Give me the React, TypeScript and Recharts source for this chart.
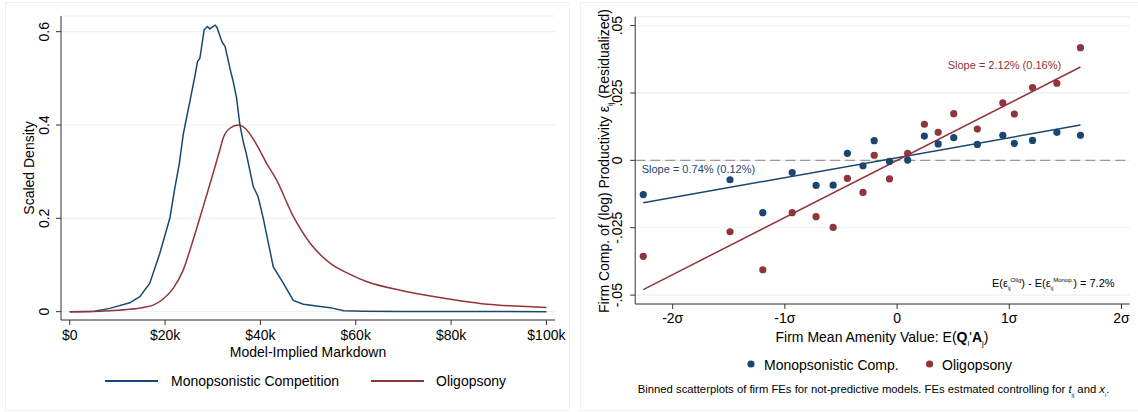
import {
  CartesianGrid,
  ComposedChart,
  Line,
  LineChart,
  ReferenceLine,
  Scatter,
  XAxis,
  YAxis,
} from "recharts";

const NAVY = "#1a476f";
const MAROON = "#90353b";
const GRID = "#eaf2f3";
const AXIS = "#333333";
const FONT = '"Liberation Sans", Arial, Helvetica, sans-serif';

// Left panel: kernel densities of the model-implied markdown ($k)
const monoMarkdown = [
  0, 5.2, 8.4, 12.6, 14.7, 16.8, 18.9, 21, 22.1, 23, 23.8, 24.5, 25.2, 26.3,
  26.8, 27.3, 28.2, 28.9, 29.4, 30, 30.5, 30.9, 31.9, 32.6, 33.6, 34.3, 35,
  35.7, 36.4, 37.1, 38.5, 39.5, 40.6, 42.7, 44.8, 46.9, 49, 51.8, 54.6, 57.5,
  61.7, 70, 100,
];
const monoDensity = [
  0, 0.001, 0.007, 0.019, 0.032, 0.061, 0.125, 0.2, 0.268, 0.318, 0.379, 0.415,
  0.45, 0.507, 0.536, 0.543, 0.604, 0.611, 0.606, 0.611, 0.614, 0.609, 0.579,
  0.568, 0.522, 0.493, 0.458, 0.4, 0.364, 0.336, 0.268, 0.247, 0.2, 0.096,
  0.061, 0.024, 0.016, 0.012, 0.0086, 0.002, 0.001, 0.0005, 0,
];
const oligMarkdown = [
  0, 5, 8.4, 12.6, 15.4, 17.5, 19.6, 21.7, 23.8, 25.9, 28, 30.1, 31.5, 32.2,
  33.6, 35.4, 37.1, 39.2, 41.3, 43.4, 46.9, 50.4, 54.6, 58.6, 62.4, 69.3, 75.4,
  81.5, 87.6, 93.7, 100,
];
const oligDensity = [
  0, 0.0005, 0.002, 0.005, 0.009, 0.014, 0.027, 0.05, 0.089, 0.154, 0.225,
  0.297, 0.347, 0.372, 0.393, 0.4, 0.39, 0.358, 0.318, 0.282, 0.204, 0.147,
  0.104, 0.081, 0.064, 0.046, 0.034, 0.024, 0.016, 0.012, 0.009,
];
const markdownTicks = [0, 20, 40, 60, 80, 100];
const densityTicks = [0, 0.2, 0.4, 0.6];

// Right panel: binned firm FEs against mean amenity value (in SD units)
const amenityBins = [
  -2.262, -1.489, -1.197, -0.935, -0.722, -0.57, -0.443, -0.304, -0.204, -0.068,
  0.094, 0.243, 0.366, 0.505, 0.715, 0.942, 1.045, 1.207, 1.424, 1.634,
];
const monoResid = [
  -0.0127, -0.0072, -0.0194, -0.0045, -0.0093, -0.0092, 0.0026, -0.002, 0.0073,
  -0.0004, 0.0001, 0.009, 0.0061, 0.0084, 0.0059, 0.0093, 0.0063, 0.0074,
  0.0104, 0.0093,
];
const oligResid = [
  -0.0356, -0.0265, -0.0406, -0.0194, -0.0209, -0.0249, -0.0067, -0.0119,
  0.0019, -0.0069, 0.0026, 0.0134, 0.0104, 0.0173, 0.0116, 0.0213, 0.0172,
  0.027, 0.0286, 0.0418,
];
const monoSlope = 0.0074;
const monoIntercept = 0.001;
const oligSlope = 0.0212;
const oligIntercept = 0;
const sigmaTicks = [-2, -1, 0, 1, 2];
const residTicks = [-0.05, -0.025, 0, 0.025, 0.05];

const monoCurve = monoMarkdown.map((x, i) => ({ x, y: monoDensity[i] }));
const oligCurve = oligMarkdown.map((x, i) => ({ x, y: oligDensity[i] }));
const monoBins = amenityBins.map((x, i) => ({ x, y: monoResid[i] }));
const oligBins = amenityBins.map((x, i) => ({ x, y: oligResid[i] }));

const binLo = Math.min(...amenityBins);
const binHi = Math.max(...amenityBins);
const fitLine = (slope: number, intercept: number) =>
  [binLo, binHi].map((x) => ({ x, y: intercept + slope * x }));
const monoFit = fitLine(monoSlope, monoIntercept);
const oligFit = fitLine(oligSlope, oligIntercept);

const fmtDollar = (v: number) => (v === 0 ? "$0" : `$${v}k`);
const fmtSigma = (v: number) => (v === 0 ? "0" : `${v}σ`);
const fmtDensity = (v: number) => (v === 0 ? "0" : String(v));
const fmtResid = (v: number) =>
  v === 0 ? "0" : String(v).replace("0.", ".");

// Stata-style vertical tick labels on the y axis
function RotatedTick(props: any) {
  const { x, y, payload, fmt } = props;
  return (
    <text
      x={x}
      y={y}
      dy="0.36em"
      textAnchor="middle"
      fontSize={14}
      fontFamily={FONT}
      fill="#000"
      transform={`rotate(-90, ${x}, ${y})`}
    >
      {fmt(payload.value)}
    </text>
  );
}

const Dot = (color: string) => (p: any) =>
  <circle cx={p.cx} cy={p.cy} r={3.6} fill={color} />;

function Txt({
  x,
  y,
  center,
  rotate,
  size = 14,
  color = "#000",
  children,
}: any) {
  const tf = rotate
    ? "translate(-50%,-50%) rotate(-90deg)"
    : center
    ? "translate(-50%,-50%)"
    : "translateY(-50%)";
  return (
    <div
      style={{
        position: "absolute",
        left: x,
        top: y,
        transform: tf,
        whiteSpace: "nowrap",
        fontSize: size,
        lineHeight: 1,
        color,
      }}
    >
      {children}
    </div>
  );
}

const tiny = { fontSize: 6, lineHeight: 0 };
const small = { fontSize: 8, lineHeight: 0 };

export default function App() {
  return (
    <div
      style={{
        position: "absolute",
        left: 0,
        top: 0,
        width: 1138,
        height: 412,
        background: "#fff",
        fontFamily: FONT,
        overflow: "hidden",
      }}
    >
      <div
        style={{
          position: "absolute",
          left: 5,
          top: 2,
          width: 565,
          height: 409,
          border: "1px solid #eef1f1",
          boxSizing: "border-box",
        }}
      />
      <div
        style={{
          position: "absolute",
          left: 580,
          top: 2,
          width: 560,
          height: 409,
          border: "1px solid #eef1f1",
          boxSizing: "border-box",
        }}
      />

      {/* density panel */}
      <div style={{ position: "absolute", left: 0, top: 0 }}>
        <LineChart
          width={570}
          height={412}
          margin={{ top: 16, right: 15, bottom: 62, left: 31 }}
        >
          <CartesianGrid vertical={false} stroke={GRID} strokeWidth={1.2} />
          <XAxis
            dataKey="x"
            type="number"
            domain={[-1.83, 101.8]}
            allowDataOverflow
            ticks={markdownTicks}
            tickFormatter={fmtDollar}
            height={30}
            tickSize={5}
            tickMargin={5}
            stroke={AXIS}
            tick={{ fontSize: 14, fill: "#000", fontFamily: FONT }}
          />
          <YAxis
            dataKey="y"
            type="number"
            domain={[-0.0179, 0.6336]}
            allowDataOverflow
            ticks={densityTicks}
            width={30}
            tickSize={5}
            tickMargin={12}
            stroke={AXIS}
            tick={<RotatedTick fmt={fmtDensity} />}
          />
          <Line
            data={monoCurve}
            dataKey="y"
            stroke={NAVY}
            strokeWidth={1.5}
            dot={false}
            type="linear"
            isAnimationActive={false}
          />
          <Line
            data={oligCurve}
            dataKey="y"
            stroke={MAROON}
            strokeWidth={1.5}
            dot={false}
            type="monotone"
            isAnimationActive={false}
          />
        </LineChart>
      </div>
      <Txt x={29} y={168} rotate>
        Scaled Density
      </Txt>
      <Txt x={308} y={352} center>
        Model-Implied Markdown
      </Txt>
      <div
        style={{
          position: "absolute",
          left: 105,
          top: 380,
          width: 53,
          height: 1.6,
          background: NAVY,
        }}
      />
      <Txt x={171} y={381}>
        Monopsonistic Competition
      </Txt>
      <div
        style={{
          position: "absolute",
          left: 371,
          top: 380,
          width: 53,
          height: 1.6,
          background: MAROON,
        }}
      />
      <Txt x={436} y={381}>
        Oligopsony
      </Txt>

      {/* binned scatter panel */}
      <div style={{ position: "absolute", left: 570, top: 0 }}>
        <ComposedChart
          width={568}
          height={412}
          margin={{ top: 16.7, right: 8.4, bottom: 78, left: 35.2 }}
        >
          <CartesianGrid vertical={false} stroke={GRID} strokeWidth={1.2} />
          <XAxis
            dataKey="x"
            type="number"
            domain={[-2.334, 2.072]}
            allowDataOverflow
            ticks={sigmaTicks}
            tickFormatter={fmtSigma}
            height={30}
            tickSize={5}
            tickMargin={4}
            stroke={AXIS}
            tick={{ fontSize: 14, fill: "#000", fontFamily: FONT }}
          />
          <YAxis
            dataKey="y"
            type="number"
            domain={[-0.0533, 0.0533]}
            allowDataOverflow
            ticks={residTicks}
            width={30}
            tickSize={5}
            tickMargin={13}
            stroke={AXIS}
            tick={<RotatedTick fmt={fmtResid} />}
          />
          <ReferenceLine
            y={0}
            stroke="#9a9a9a"
            strokeWidth={1.2}
            strokeDasharray="10 5"
          />
          <Line
            data={monoFit}
            dataKey="y"
            stroke={NAVY}
            strokeWidth={1.5}
            dot={false}
            isAnimationActive={false}
          />
          <Line
            data={oligFit}
            dataKey="y"
            stroke={MAROON}
            strokeWidth={1.5}
            dot={false}
            isAnimationActive={false}
          />
          <Scatter
            data={monoBins}
            dataKey="y"
            fill={NAVY}
            shape={Dot(NAVY)}
            isAnimationActive={false}
          />
          <Scatter
            data={oligBins}
            dataKey="y"
            fill={MAROON}
            shape={Dot(MAROON)}
            isAnimationActive={false}
          />
        </ComposedChart>
      </div>
      <Txt x={604.4} y={161} rotate>
        Firm Comp. of (log) Productivity ε<sub style={small}>ij</sub>{" "}
        (Residualized)
      </Txt>
      <Txt x={882} y={337} center>
        Firm Mean Amenity Value: E(<b>Q</b>
        <sub style={small}>i</sub>'<b>A</b>
        <sub style={small}>j</sub>)
      </Txt>
      <Txt x={641.7} y={169} size={11} color={NAVY}>
        Slope = 0.74% (0.12%)
      </Txt>
      <Txt x={947.7} y={65} size={11} color={MAROON}>
        Slope = 2.12% (0.16%)
      </Txt>
      <Txt x={992} y={283} size={11}>
        E(ε<sub style={tiny}>ij</sub>
        <sup style={tiny}>Olig</sup>) - E(ε<sub style={tiny}>ij</sub>
        <sup style={tiny}>Monop.</sup>) = 7.2%
      </Txt>
      <svg
        width={1138}
        height={412}
        style={{ position: "absolute", left: 0, top: 0, pointerEvents: "none" }}
      >
        <circle cx={751} cy={364} r={3.6} fill={NAVY} />
        <circle cx={929.6} cy={364} r={3.6} fill={MAROON} />
      </svg>
      <Txt x={764} y={365}>
        Monopsonistic Comp.
      </Txt>
      <Txt x={942} y={365}>
        Oligopsony
      </Txt>
      <Txt x={637.7} y={390} size={11.3}>
        Binned scatterplots of firm FEs for not-predictive models. FEs estmated
        controlling for <i>t</i>
        <sub style={tiny}>ij</sub> and <i>x</i>
        <sub style={tiny}>i</sub>.
      </Txt>
    </div>
  );
}
